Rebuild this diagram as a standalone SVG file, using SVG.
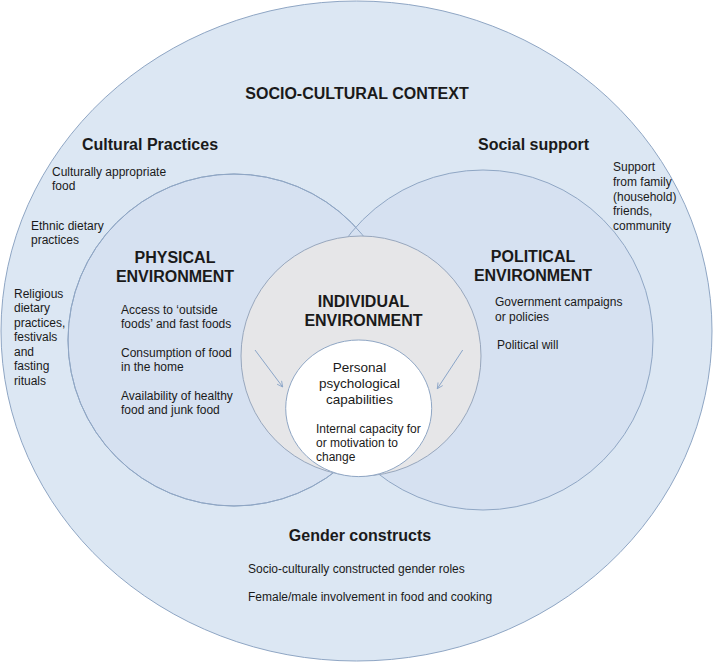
<svg xmlns="http://www.w3.org/2000/svg" width="713" height="662" viewBox="0 0 713 662">
<style>
text{font-family:"Liberation Sans",Arial,sans-serif;fill:#1a1a1a}
.h{font-size:16px;font-weight:bold}
.t{font-size:12px}
.m{font-size:13.5px}
.c{text-anchor:middle}
.ring{stroke:#8fa6c4;stroke-width:1}
.env{fill:#d6e1f1}
.line{fill:none;stroke:#8aa5c8;stroke-width:1}
</style>
<defs>
<marker id="arr" viewBox="0 0 10 10" refX="9" refY="5" markerWidth="7" markerHeight="7" orient="auto" markerUnits="userSpaceOnUse">
<path d="M1,1 L9,5 L1,9" fill="none" stroke="#8aa5c8" stroke-width="1.2"/>
</marker>
</defs>
<g id="socio-cultural-context">
<ellipse class="ring" cx="356.5" cy="331" rx="355.5" ry="330" fill="#dce7f3"/>
<text class="h c" x="357" y="98.5" font-size="15.7">SOCIO-CULTURAL CONTEXT</text>
<text class="h" x="82" y="150">Cultural Practices</text>
<text class="t" x="52" y="176">Culturally appropriate</text>
<text class="t" x="52" y="190">food</text>
<text class="t" x="31" y="229.5">Ethnic dietary</text>
<text class="t" x="31" y="244">practices</text>
<text class="t" x="14" y="297.5">Religious</text>
<text class="t" x="14" y="312">dietary</text>
<text class="t" x="14" y="326.5">practices,</text>
<text class="t" x="14" y="341">festivals</text>
<text class="t" x="14" y="355.5">and</text>
<text class="t" x="14" y="370">fasting</text>
<text class="t" x="14" y="384.5">rituals</text>
<text class="h" x="478" y="150">Social support</text>
<text class="t" x="613" y="171">Support</text>
<text class="t" x="613" y="186">from family</text>
<text class="t" x="613" y="200.5">(household)</text>
<text class="t" x="613" y="215">friends,</text>
<text class="t" x="613" y="229.5">community</text>
<text class="h c" x="360" y="541">Gender constructs</text>
<text class="t" x="248" y="572.5">Socio-culturally constructed gender roles</text>
<text class="t" x="248" y="601">Female/male involvement in food and cooking</text>
</g>
<g id="physical-environment">
<circle class="ring env" cx="234" cy="340" r="166"/>
</g>
<g id="political-environment">
<circle class="ring env" cx="483" cy="340" r="170"/>
<circle class="ring" cx="234" cy="340" r="166" fill="none"/>
</g>
<g id="physical-environment-text">
<text class="h c" x="175" y="262.5">PHYSICAL</text>
<text class="h c" x="175" y="281.5">ENVIRONMENT</text>
<text class="t" x="121" y="313.5">Access to ‘outside</text>
<text class="t" x="121" y="328">foods’ and fast foods</text>
<text class="t" x="121" y="356.5">Consumption of food</text>
<text class="t" x="121" y="371">in the home</text>
<text class="t" x="121" y="399.5">Availability of healthy</text>
<text class="t" x="121" y="414">food and junk food</text>
</g>
<g id="political-environment-text">
<text class="h c" x="533" y="262">POLITICAL</text>
<text class="h c" x="533" y="281">ENVIRONMENT</text>
<text class="t" x="495" y="306">Government campaigns</text>
<text class="t" x="495" y="320.5">or policies</text>
<text class="t" x="497" y="349">Political will</text>
</g>
<g id="individual-environment">
<circle cx="361" cy="356" r="120" fill="#e6e6e8" stroke="#98a7bd" stroke-width="1"/>
<text class="h c" x="363.5" y="307">INDIVIDUAL</text>
<text class="h c" x="363.5" y="326">ENVIRONMENT</text>
</g>
<g id="personal-psychological-capabilities">
<ellipse cx="358.7" cy="408.3" rx="73" ry="68.3" fill="#ffffff" stroke="#8fa6c4" stroke-width="1"/>
<text class="m c" x="359.5" y="371.5">Personal</text>
<text class="m c" x="359.5" y="387.5">psychological</text>
<text class="m c" x="359.5" y="403.5">capabilities</text>
<text class="t" x="316" y="432.5">Internal capacity for</text>
<text class="t" x="316" y="447">or motivation to</text>
<text class="t" x="316" y="461">change</text>
</g>
<g id="connectors">
<line class="line" x1="255" y1="350" x2="282.7" y2="387" marker-end="url(#arr)"/>
<line class="line" x1="462.7" y1="350" x2="437.3" y2="388.7" marker-end="url(#arr)"/>
</g>
</svg>
